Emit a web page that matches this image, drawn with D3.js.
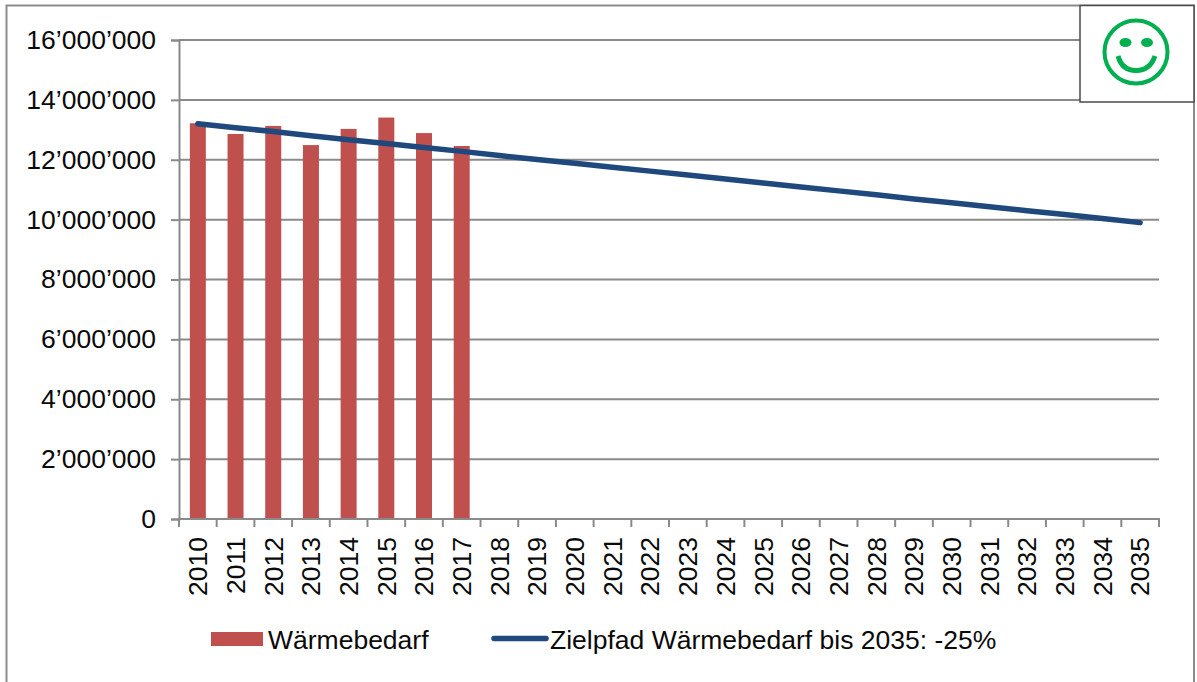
<!DOCTYPE html>
<html>
<head>
<meta charset="utf-8">
<script src="https://cdn.jsdelivr.net/npm/d3@7"></script>
<style>
  html, body { margin: 0; padding: 0; background: #fff; }
  text { font-family: "Liberation Sans", sans-serif; fill: #0a0a0a; }
</style>
</head>
<body>
<svg id="chart" width="1197" height="682"></svg>
<script>
// values
const years = [2010, 2011, 2012, 2013, 2014, 2015, 2016, 2017, 2018, 2019, 2020, 2021, 2022,
  2023, 2024, 2025, 2026, 2027, 2028, 2029, 2030, 2031, 2032, 2033, 2034, 2035];
const barYears = [2010, 2011, 2012, 2013, 2014, 2015, 2016, 2017];
const waermebedarf = [13220000, 12860000, 13130000, 12490000, 13030000, 13410000, 12890000, 12460000];
const zielpfad = [13200000, 13070000, 12940000, 12800000, 12670000, 12540000, 12410000, 12280000,
  12140000, 12010000, 11880000, 11750000, 11620000, 11490000, 11360000, 11220000, 11090000,
  10960000, 10830000, 10690000, 10560000, 10430000, 10300000, 10170000, 10040000, 9900000];
const yTicks = [0, 2000000, 4000000, 6000000, 8000000, 10000000, 12000000, 14000000, 16000000];
const barName = "Wärmebedarf";
const lineName = "Zielpfad Wärmebedarf bis 2035: -25%";

const RED = "#c0504d";
const BLUE = "#1f497d";
const GRID = "#8a8a8a";
const FONT_SIZE = 26.5;

const svg = d3.select("#chart");

const x = d3.scaleBand().domain(years).range([179, 1159]);
const y = d3.scaleLinear().domain([0, 16000000]).range([519, 40]);

// outer chart frame, open at the bottom
svg.append("path")
  .attr("d", "M6.5,682V5.5H1194V682")
  .attr("fill", "none")
  .attr("stroke", "#8c8c8c")
  .attr("stroke-width", 2);

// gridlines
svg.append("g")
  .selectAll("line")
  .data(yTicks.filter((d) => d > 0))
  .join("line")
  .attr("x1", 179)
  .attr("x2", 1159)
  .attr("y1", (d) => y(d))
  .attr("y2", (d) => y(d))
  .attr("stroke", GRID)
  .attr("stroke-width", 2);

// bars
svg.append("g")
  .selectAll("rect")
  .data(barYears)
  .join("rect")
  .attr("x", (d) => x(d) + x.bandwidth() / 2 - 8)
  .attr("y", (d, i) => y(waermebedarf[i]))
  .attr("width", 16)
  .attr("height", (d, i) => y(0) - y(waermebedarf[i]))
  .attr("fill", RED);

// axes
const yAxis = d3.axisLeft(y)
  .tickValues(yTicks)
  .tickSize(8)
  .tickPadding(15)
  .tickFormat((d) => d3.format(",")(d).replace(/,/g, "’"));

svg.append("g")
  .attr("transform", "translate(179,0)")
  .call(yAxis)
  .call((g) => g.select(".domain").attr("stroke", GRID).attr("stroke-width", 2))
  .call((g) => g.selectAll(".tick line").attr("stroke", GRID).attr("stroke-width", 2))
  .call((g) => g.selectAll("text").style("font-size", FONT_SIZE + "px"));

const xAxis = d3.axisBottom(x).tickSize(0);

const xg = svg.append("g")
  .attr("transform", "translate(0,519)")
  .call(xAxis)
  .call((g) => g.select(".domain").attr("d", "M179,8V0H1159V8").attr("stroke", GRID).attr("stroke-width", 2))
  .call((g) => g.selectAll("text")
    .attr("transform", "rotate(-90)")
    .attr("text-anchor", "end")
    .attr("x", -18)
    .attr("y", 0)
    .attr("dy", "0.35em")
    .style("font-size", FONT_SIZE + "px"));

// tick marks sit on the category boundaries
xg.append("g")
  .selectAll("line")
  .data(years)
  .join("line")
  .attr("x1", (d) => x(d))
  .attr("x2", (d) => x(d))
  .attr("y1", 0)
  .attr("y2", 8)
  .attr("stroke", GRID)
  .attr("stroke-width", 2);

// target path
const line = d3.line()
  .x((d, i) => x(years[i]) + x.bandwidth() / 2)
  .y((d) => y(d));

svg.append("path")
  .datum(zielpfad)
  .attr("d", line)
  .attr("fill", "none")
  .attr("stroke", BLUE)
  .attr("stroke-width", 5.5)
  .attr("stroke-linecap", "round")
  .attr("stroke-linejoin", "round");

// legend
svg.append("rect")
  .attr("x", 211)
  .attr("y", 632)
  .attr("width", 52)
  .attr("height", 14)
  .attr("fill", RED);

svg.append("text")
  .attr("x", 268)
  .attr("y", 649)
  .style("font-size", FONT_SIZE + "px")
  .text(barName);

svg.append("line")
  .attr("x1", 494)
  .attr("x2", 546)
  .attr("y1", 638.5)
  .attr("y2", 638.5)
  .attr("stroke", BLUE)
  .attr("stroke-width", 5.5)
  .attr("stroke-linecap", "round");

svg.append("text")
  .attr("x", 550)
  .attr("y", 649)
  .style("font-size", FONT_SIZE + "px")
  .text(lineName);

// smiley box in the top right corner
const smiley = svg.append("g");
const GREEN = "#00b050";

smiley.append("rect")
  .attr("x", 1080)
  .attr("y", 5.5)
  .attr("width", 114)
  .attr("height", 96.5)
  .attr("fill", "#fff")
  .attr("stroke", "#4a4a4a")
  .attr("stroke-width", 1.5);

smiley.append("circle")
  .attr("cx", 1136)
  .attr("cy", 52)
  .attr("r", 31.5)
  .attr("fill", "none")
  .attr("stroke", GREEN)
  .attr("stroke-width", 4);

smiley.selectAll("ellipse")
  .data([1125.5, 1147])
  .join("ellipse")
  .attr("cx", (d) => d)
  .attr("cy", 42.5)
  .attr("rx", 6)
  .attr("ry", 4.5)
  .attr("fill", GREEN);

smiley.append("path")
  .attr("d", "M1118,56Q1122,70.5 1136,70.5Q1150,70.5 1155,56")
  .attr("fill", "none")
  .attr("stroke", GREEN)
  .attr("stroke-width", 5);
</script>
</body>
</html>
